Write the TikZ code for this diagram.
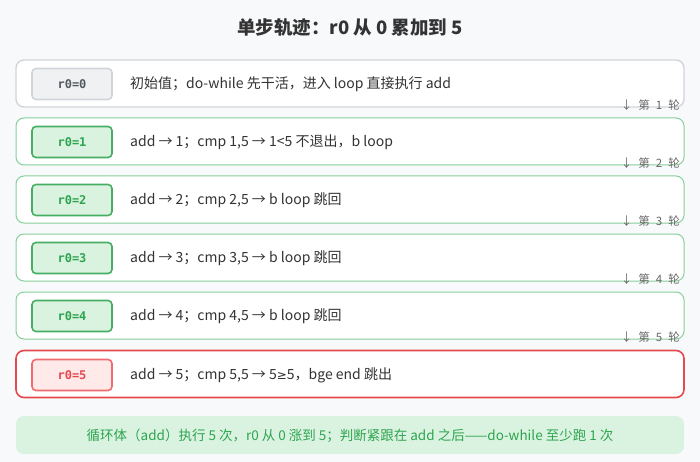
\documentclass[tikz,border=0pt]{standalone}
\usepackage{fontspec}
\setmainfont{Noto Sans CJK SC}
\newfontfamily\monof{DejaVu Sans Mono}
\newfontfamily\symf{DejaVu Sans}
\definecolor{bg}{HTML}{F8F9FB}
\definecolor{grayb}{HTML}{D1D5DB}
\definecolor{grayf}{HTML}{F0F1F3}
\definecolor{grayt}{HTML}{555A60}
\definecolor{greenb}{HTML}{86CF9A}
\definecolor{greenc}{HTML}{45AE62}
\definecolor{greenf}{HTML}{DAF3E0}
\definecolor{greent}{HTML}{2EA44F}
\definecolor{redb}{HTML}{E5484D}
\definecolor{redc}{HTML}{EE6B6F}
\definecolor{redf}{HTML}{FFE9E9}
\definecolor{txt}{HTML}{333333}
\definecolor{lbl}{HTML}{666666}
\newcommand{\rnd}[1]{↓\hspace{6pt}第\hspace{6pt}#1\hspace{6pt}轮}
\tikzset{
  rowbox/.style={draw=#1, line width=1pt, rounded corners=8pt, fill=white, minimum width=668pt, minimum height=47pt, inner sep=0pt},
  chip/.style={rounded corners=4pt, line width=1.6pt, minimum width=80pt, minimum height=31pt, inner sep=0pt, font=\monof\bfseries\fontsize{12}{14}\selectfont},
  desc/.style={anchor=west, text=txt, font=\fontsize{14}{17}\selectfont, inner sep=0pt},
  roundlbl/.style={anchor=east, text=lbl, font=\fontsize{11.5}{13}\selectfont, inner sep=0pt},
}
\begin{document}
\begin{tikzpicture}[x=1pt,y=-1pt]
\fill[bg] (0,0) rectangle (700,462);
\useasboundingbox (0,0) rectangle (700,462);
\node[font=\bfseries\fontsize{18.5}{22}\selectfont, text=txt] (title) at (350,27) {单步轨迹：r0 从 0 累加到 5};
% rows
\node[rowbox=grayb, line width=1.4pt] (b0) at (350,83.5) {};
\node[chip, draw=grayb, fill=grayf, text=grayt] (c0) at (72,84) {r0=0};
\node[desc] (d0) at (130,84) {初始值；do-while 先干活，进入 loop 直接执行 add};
\node[roundlbl] (l1) at (680,105) {\rnd{1}};

\node[rowbox=greenb] (b1) at (350,141.5) {};
\node[chip, draw=greenc, fill=greenf, text=greent] (c1) at (72,142) {r0=1};
\node[desc] (d1) at (130,142) {add → 1；cmp 1,5 → 1<5 不退出，b loop};
\node[roundlbl] (l2) at (680,163) {\rnd{2}};

\node[rowbox=greenb] (b2) at (350,199.5) {};
\node[chip, draw=greenc, fill=greenf, text=greent] (c2) at (72,200) {r0=2};
\node[desc] (d2) at (130,200) {add → 2；cmp 2,5 → b loop 跳回};
\node[roundlbl] (l3) at (680,221) {\rnd{3}};

\node[rowbox=greenb] (b3) at (350,257.5) {};
\node[chip, draw=greenc, fill=greenf, text=greent] (c3) at (72,258) {r0=3};
\node[desc] (d3) at (130,258) {add → 3；cmp 3,5 → b loop 跳回};
\node[roundlbl] (l4) at (680,279) {\rnd{4}};

\node[rowbox=greenb] (b4) at (350,315.5) {};
\node[chip, draw=greenc, fill=greenf, text=greent] (c4) at (72,316) {r0=4};
\node[desc] (d4) at (130,316) {add → 4；cmp 4,5 → b loop 跳回};
\node[roundlbl] (l5) at (680,337) {\rnd{5}};

\node[rowbox=redb, line width=1.6pt] (b5) at (350,374) {};
\node[chip, draw=redc, fill=redf, text=redb] (c5) at (72,375) {r0=5};
\node[desc] (d5) at (130,375) {add → 5；cmp 5,5 → 5{\symf\fontsize{12}{14}\selectfont ≥}5，bge end 跳出};

% footer
\node[fill=greenf, rounded corners=8pt, minimum width=668pt, minimum height=38pt, inner sep=0pt] (foot) at (350,435) {};
\node[text=greent, font=\fontsize{13.5}{16}\selectfont] (ft) at (350,436) {循环体（add）执行 5 次，r0 从 0 涨到 5；判断紧跟在 add 之后——do-while 至少跑 1 次};
\end{tikzpicture}
\end{document}
